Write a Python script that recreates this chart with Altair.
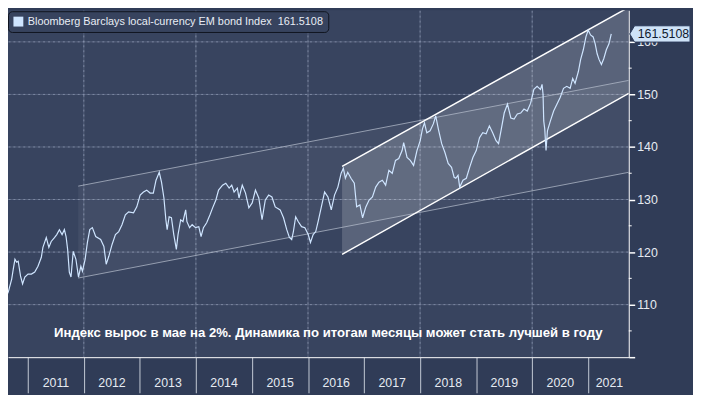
import altair as alt
import pandas as pd

# ---------------- data ----------------
SERIES_NAME = "Bloomberg Barclays local-currency EM bond Index\u00a0\u00a0161.5108"
LAST_VALUE = 161.5108
ANNOTATION = "Индекс вырос в мае на 2%. Динамика по итогам месяцы может стать лучшей в году"

t = [2010.506, 2010.536, 2010.564, 2010.624, 2010.653, 2010.713, 2010.741, 2010.771, 2010.801, 2010.829,
     2010.871, 2010.907, 2010.947, 2011.005, 2011.065, 2011.124, 2011.182, 2011.242, 2011.270, 2011.330,
     2011.376, 2011.418, 2011.476, 2011.517, 2011.564, 2011.612, 2011.653, 2011.683, 2011.711, 2011.741,
     2011.771, 2011.811, 2011.859, 2011.905, 2011.947, 2011.975, 2012.023, 2012.064, 2012.106, 2012.152,
     2012.212, 2012.300, 2012.358, 2012.399, 2012.446, 2012.504, 2012.564, 2012.623, 2012.681, 2012.741,
     2012.799, 2012.887, 2012.945, 2013.005, 2013.064, 2013.122, 2013.182, 2013.240, 2013.288, 2013.346,
     2013.386, 2013.429, 2013.464, 2013.487, 2013.522, 2013.563, 2013.605, 2013.651, 2013.681, 2013.728,
     2013.769, 2013.817, 2013.840, 2013.887, 2013.933, 2013.993, 2014.051, 2014.092, 2014.134, 2014.192,
     2014.251, 2014.298, 2014.356, 2014.404, 2014.475, 2014.533, 2014.593, 2014.639, 2014.681, 2014.739,
     2014.769, 2014.827, 2014.885, 2014.945, 2015.004, 2015.062, 2015.122, 2015.180, 2015.238, 2015.298,
     2015.356, 2015.415, 2015.503, 2015.563, 2015.621, 2015.668, 2015.709, 2015.739, 2015.780, 2015.827,
     2015.885, 2015.944, 2016.004, 2016.044, 2016.092, 2016.138, 2016.180, 2016.238, 2016.296, 2016.356,
     2016.415, 2016.473, 2016.533, 2016.591, 2016.631, 2016.667, 2016.709, 2016.767, 2016.826, 2016.868,
     2016.926, 2016.974, 2017.032, 2017.090, 2017.150, 2017.208, 2017.266, 2017.326, 2017.385, 2017.443,
     2017.503, 2017.561, 2017.619, 2017.679, 2017.707, 2017.767, 2017.825, 2017.884, 2017.944, 2018.002,
     2018.042, 2018.078, 2018.120, 2018.178, 2018.236, 2018.279, 2018.325, 2018.385, 2018.443, 2018.501,
     2018.561, 2018.607, 2018.637, 2018.677, 2018.707, 2018.765, 2018.825, 2018.884, 2018.942, 2019.002,
     2019.060, 2019.118, 2019.178, 2019.236, 2019.295, 2019.355, 2019.400, 2019.443, 2019.501, 2019.559,
     2019.619, 2019.677, 2019.735, 2019.795, 2019.854, 2019.912, 2019.972, 2020.030, 2020.088, 2020.148,
     2020.176, 2020.194, 2020.206, 2020.224, 2020.247, 2020.272, 2020.325, 2020.383, 2020.441, 2020.501,
     2020.559, 2020.617, 2020.677, 2020.723, 2020.765, 2020.824, 2020.864, 2020.912, 2020.959, 2021.000,
     2021.041, 2021.088, 2021.124, 2021.159, 2021.194, 2021.235, 2021.277, 2021.323, 2021.370, 2021.411]

v = [108.29, 108.91, 111.11, 111.73, 112.43, 114.87, 116.75, 118.63, 118.07, 118.26,
     115.43, 113.93, 115.25, 115.81, 115.81, 116.19, 117.31, 119.01, 120.89, 122.77,
     120.89, 122.02, 122.77, 123.33, 124.27, 123.33, 124.27, 122.96, 120.51, 116.19,
     115.25, 120.14, 118.63, 115.25, 117.31, 116.37, 118.63, 121.83, 124.27, 124.65,
     122.96, 122.39, 121.08, 117.69, 119.20, 121.45, 123.33, 123.90, 125.21, 127.09,
     127.66, 127.47, 128.60, 130.85, 131.42, 131.79, 131.23, 131.23, 133.67, 135.18,
     133.30, 130.29, 126.15, 124.27, 126.72, 126.53, 123.33, 120.51, 123.33, 126.15,
     125.78, 128.03, 125.78, 124.65, 125.21, 124.65, 124.84, 122.96, 124.65, 125.59,
     127.09, 128.41, 129.91, 131.79, 132.73, 133.11, 132.17, 132.73, 131.42, 132.17,
     130.29, 132.73, 131.23, 128.41, 129.35, 131.79, 130.29, 126.15, 129.91, 130.85,
     130.48, 128.60, 128.03, 126.53, 124.27, 122.77, 122.39, 123.90, 126.72, 125.78,
     124.84, 124.65, 123.33, 121.83, 123.33, 123.90, 125.78, 128.60, 131.42, 130.48,
     128.03, 130.85, 132.36, 134.99, 135.93, 134.05, 135.18, 134.05, 133.11, 128.60,
     128.97, 126.53, 128.60, 129.91, 130.48, 132.36, 133.30, 133.67, 132.73, 135.55,
     134.99, 137.44, 137.81, 139.32, 140.82, 138.00, 137.44, 136.49, 139.32, 141.20,
     143.45, 144.58, 142.70, 143.08, 144.39, 145.90, 143.45, 140.63, 138.94, 136.87,
     136.12, 134.24, 134.05, 134.61, 132.36, 133.67, 134.05, 136.12, 138.00, 139.32,
     141.76, 142.70, 142.51, 144.02, 142.70, 141.20, 140.63, 143.08, 146.46, 148.15,
     145.52, 145.33, 146.27, 146.46, 147.21, 146.84, 148.34, 150.97, 151.54, 150.97,
     151.91, 150.03, 144.96, 143.45, 139.32, 143.08, 144.96, 146.84, 148.15, 149.47,
     151.16, 151.54, 151.16, 153.04, 152.10, 154.36, 156.62, 158.50, 160.94, 162.26,
     161.32, 160.94, 159.62, 157.74, 156.62, 155.68, 156.80, 158.50, 159.62, 161.5108]

# trend channels (start / end)
faint_t = [2011.90, 2021.723]
faint_hi = [132.55, 152.67]
faint_lo = [115.06, 135.18]
bright_t = [2016.608, 2021.723]
bright_hi = [136.31, 166.58]
bright_lo = [119.57, 150.21]

year_ticks = list(range(2011, 2022))
grid_years = [2012, 2014, 2016, 2018, 2020]
y_ticks = [100, 110, 120, 130, 140, 150, 160]
grid_values = [110, 120, 130, 140, 150, 160]
minor_ticks = [105, 115, 125, 135, 145, 155]

# ---------------- layout ----------------
W, H = 628, 351
PAD_R, PAD_B = 65, 36
FONT = "Liberation Sans"
GRID = "#9aa6bf"

xs = alt.Scale(domain=[2010.647, 2021.723], nice=False, zero=False)
ys = alt.Scale(domain=[100, 166.02], nice=False, zero=False)

series = pd.DataFrame({"t": t, "v": v, "name": [SERIES_NAME] * len(t)})
faint = pd.DataFrame({"t": faint_t, "hi": faint_hi, "lo": faint_lo})
bright = pd.DataFrame({"t": bright_t, "hi": bright_hi, "lo": bright_lo})
gy = pd.DataFrame({"gy": grid_years})
gv = pd.DataFrame({"gv": grid_values})

x_axis = alt.Axis(values=year_ticks, format="d", title=None, grid=False,
                  domainColor="white", domainWidth=1, tickColor="#c3cad6", tickWidth=1,
                  tickSize=PAD_B, labelColor="#e6ebf2", labelFont=FONT, labelFontSize=12.5,
                  labelPadding=-16, labelOverlap=False, labelFlush=False,
                  labelOffset={"condition": {"test": "datum.value >= 2021", "value": 21}, "value": 28})
y_axis = alt.Axis(values=y_ticks, format="d", orient="right", title=None, grid=False,
                  labelExpr="datum.value == 100 ? '' : datum.label",
                  domainColor="white", domainWidth=1, tickColor="white", tickWidth=1.5, tickSize=6,
                  labelColor="#e6ebf2", labelFont=FONT, labelFontSize=12.5, labelPadding=2)

line = alt.Chart(series).mark_line(strokeWidth=1.2, clip=True).encode(
    x=alt.X("t:Q", scale=xs, axis=x_axis),
    y=alt.Y("v:Q", scale=ys, axis=y_axis),
    color=alt.Color("name:N", scale=alt.Scale(range=["#cfe5ff"]),
                    legend=alt.Legend(orient="none", legendX=0, legendY=1, title=None,
                                      fillColor="#37435e", strokeColor="#10151f", cornerRadius=4,
                                      padding=5, labelFont=FONT, labelFontSize=11,
                                      labelColor="#e8edf5", labelLimit=600, symbolType="square",
                                      symbolSize=100, symbolFillColor="#cfe5ff",
                                      symbolStrokeColor="#cfe5ff", symbolStrokeWidth=0)))

# faint grid lines (solid underlay + dotted overlay)
vgrid_base = alt.Chart(gy).mark_rule(color=GRID, strokeWidth=1, opacity=0.3).encode(
    x=alt.X("gy:Q", scale=xs), y=alt.value(0.5), y2=alt.value(H))
hgrid_base = alt.Chart(gv).mark_rule(color=GRID, strokeWidth=1, opacity=0.3).encode(
    y=alt.Y("gv:Q", scale=ys), x=alt.value(0.5), x2=alt.value(W))
vgrid = alt.Chart(gy).mark_rule(color=GRID, strokeWidth=1, strokeDash=[2, 3], opacity=0.6).encode(
    x=alt.X("gy:Q", scale=xs), y=alt.value(0.5), y2=alt.value(H))
hgrid = alt.Chart(gv).mark_rule(color=GRID, strokeWidth=1, strokeDash=[2, 3], opacity=0.6).encode(
    y=alt.Y("gv:Q", scale=ys), x=alt.value(0.5), x2=alt.value(W))

def band(df, op):
    return alt.Chart(df).mark_area(color="white", opacity=op, clip=True).encode(
        x=alt.X("t:Q", scale=xs), y=alt.Y("hi:Q", scale=ys), y2="lo:Q")

def edge(df, col, color, width, op):
    return alt.Chart(df).mark_line(color=color, strokeWidth=width, opacity=op, clip=True).encode(
        x=alt.X("t:Q", scale=xs), y=alt.Y(f"{col}:Q", scale=ys))

faint_area = band(faint, 0.05)
bright_area = band(bright, 0.17)
faint_edges = edge(faint, "hi", "#b4bccb", 1, 0.75) + edge(faint, "lo", "#b4bccb", 1, 0.75)
bright_edges = edge(bright, "hi", "white", 1.5, 1) + edge(bright, "lo", "white", 1.5, 1)

minor = alt.Chart(pd.DataFrame({"m": minor_ticks})).mark_rule(color="white", strokeWidth=1).encode(
    y=alt.Y("m:Q", scale=ys), x=alt.value(W), x2=alt.value(W + 3))

last = pd.DataFrame({"lv": [LAST_VALUE], "label": [f"{LAST_VALUE:.4f}"]})
pennant = alt.Chart(last).mark_point(
    shape="M -1 0 L -0.84 -0.27 L 1 -0.27 L 1 0.27 L -0.84 0.27 Z",
    size=3721, filled=True, fill="#cfe3f8", stroke="#2a3a5a", strokeWidth=1, opacity=1
).encode(x=alt.value(W + 31.5), y=alt.Y("lv:Q", scale=ys))
pennant_text = alt.Chart(last).mark_text(
    align="left", baseline="middle", font=FONT, fontSize=12.5, color="#101a2e"
).encode(x=alt.value(W + 9), y=alt.Y("lv:Q", scale=ys), text="label:N")

note = alt.Chart(pd.DataFrame({"txt": [ANNOTATION]})).mark_text(
    font=FONT, fontSize=13.3, fontWeight="bold", color="white", align="center", baseline="middle"
).encode(x=alt.value(324), y=alt.value(327), text="txt:N")

chart = alt.layer(
    hgrid_base, vgrid_base, hgrid, vgrid, faint_area, bright_area, faint_edges, bright_edges,
    minor, line, pennant, pennant_text, note
).properties(
    width=W, height=H,
    padding={"left": 0, "top": 0, "right": PAD_R, "bottom": PAD_B},
    autosize=alt.AutoSizeParams(type="none", contains="content"),
    background="#303c57",
).configure_view(strokeWidth=0, fill="#38445f")

chart.save("out.html", embed_options={"renderer": "svg", "actions": False})
